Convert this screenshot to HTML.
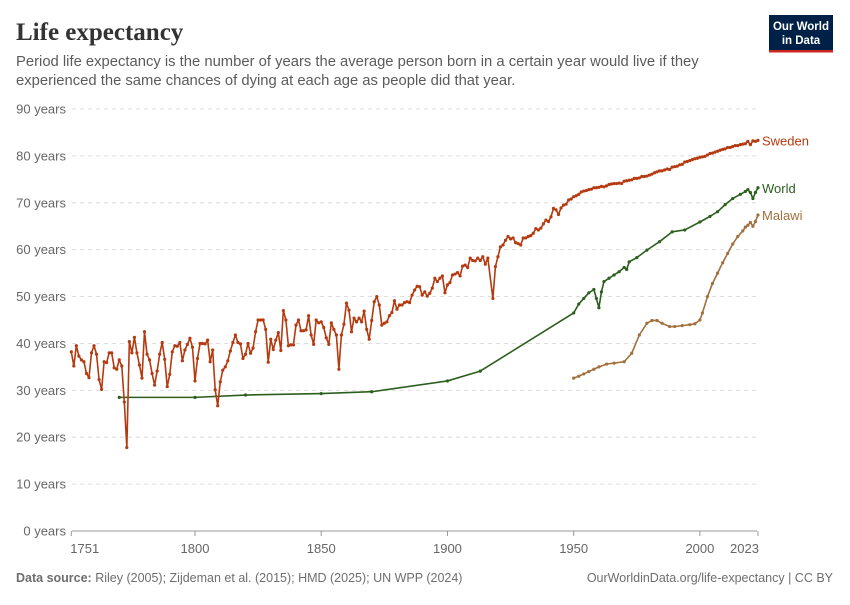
<!DOCTYPE html>
<html><head><meta charset="utf-8"><style>
body{margin:0;background:#fff;width:850px;height:600px;overflow:hidden;font-family:"Liberation Sans",sans-serif}
</style></head><body>
<svg id="chart" width="850" height="600" viewBox="0 0 850 600" xmlns="http://www.w3.org/2000/svg">
<text x="16" y="40" font-family="Liberation Serif, serif" font-size="25" font-weight="bold" fill="#333">Life expectancy</text>
<text font-size="14.8" fill="#5b5b5b"><tspan x="16" y="66">Period life expectancy is the number of years the average person born in a certain year would live if they</tspan><tspan x="16" y="85">experienced the same chances of dying at each age as people did that year.</tspan></text>
<g><rect x="769" y="15" width="64" height="36" fill="#002147"/><rect x="769" y="50" width="64" height="2.5" fill="#ce261e"/>
<text x="801" y="30" font-size="11.5" font-weight="bold" fill="#fff" text-anchor="middle">Our World</text><text x="801" y="44" font-size="11.5" font-weight="bold" fill="#fff" text-anchor="middle">in Data</text></g>
<g id="grid"></g><g id="series"></g>
<text x="16" y="582" font-size="12.5" fill="#6e6e6e"><tspan font-weight="bold">Data source:</tspan> Riley (2005); Zijdeman et al. (2015); HMD (2025); UN WPP (2024)</text>
<text x="833" y="582" font-size="12.5" fill="#6e6e6e" text-anchor="end">OurWorldinData.org/life-expectancy | CC BY</text>
</svg>
<script>
const yTicks=[0,10,20,30,40,50,60,70,80,90];
const xTicks=[1751,1800,1850,1900,1950,2000,2023];
const sweden1751=[38.2,35.2,39.5,37.3,36.5,36.1,33.6,32.7,38.0,39.5,37.7,32.3,30.2,36.1,35.9,38.0,38.0,34.8,34.5,36.5,35.2,27.5,17.8,40.4,38.0,41.3,38.0,35.4,32.6,42.5,37.7,36.5,33.6,31.1,34.1,37.7,40.2,36.6,30.8,33.4,38.2,39.5,39.4,40.2,36.3,38.6,39.8,41.1,39.2,32.0,36.8,40.0,40.0,39.9,40.7,36.1,38.6,30.1,26.7,31.8,34.3,35.0,36.3,38.4,40.2,41.8,40.2,39.9,36.8,37.7,40.0,37.9,39.0,42.5,45.0,45.0,45.0,43.0,
36.0,40.9,38.7,40.7,42.3,38.5,47.0,45.0,39.5,39.7,39.7,43.9,45.0,42.7,42.7,42.9,45.9,41.8,39.8,45.0,44.4,44.6,43.4,41.2,39.8,44.4,43.0,41.8,34.5,41.8,44.1,48.6,47.1,42.5,45.4,44.6,45.4,44.6,46.9,43.0,40.9,44.9,48.9,50.0,48.2,43.9,44.3,44.6,45.9,46.6,49.1,47.3,48.2,48.2,48.7,48.9,48.7,50.3,51.4,52.2,52.1,50.3,51.0,50.1,50.7,51.8,53.9,53.2,53.9,54.4,50.8,52.5,53.0,54.6,54.8,55.1,54.4,56.5,56.7,56.2,58.2,57.7,57.6,58.2,57.7,58.5,56.9,58.2];
const sweden1918=[49.6,56.4,58.5,60.6,61,62,62.8,62.3,62.5,61.5,61.3,61,62.5,62.5,62.8,63,63.5,64.5,64.2,64.6,65.5,66.3,66,67,68.8,68.5,67.5,68.9,69.5,69.7,70.6,70.8,71.3,71.5,71.8,72.3,72.5,72.6,72.8,72.9,73.2,73.2,73.3,73.5,73.4,73.6,73.9,74,74.1,74.1,74.2,74.1,74.6,74.7,74.8,74.9,75.2,75.2,75.3,75.6,75.6,75.7,75.9,76.1,76.4,76.6,76.8,76.8,77,77.2,77.1,77.6,77.7,77.8,78.1,78.2,78.7,78.8,79,79.2,79.4,79.5,79.7,79.8,79.9,80.2,80.5,80.6,80.8,81,81.2,81.4,81.5,81.8,81.8,82,82.2,82.2,82.4,82.5,82.6,83.1,82.4,83.2,83.1,83.3];
const worldYears=[1770,1800,1820,1850,1870,1900,1913,1950,1952,1954,1956,1958,1959,1960,1961,1962,1964,1966,1968,1970,1971,1972,1975,1979,1984,1989,1994,2000,2004,2007,2010,2013,2016,2018,2019,2020,2021,2022,2023];
const worldValues=[28.5,28.5,29,29.3,29.7,32,34.1,46.5,48.4,49.6,50.8,51.5,49.6,47.6,51,53.2,53.9,54.6,55.3,56.2,55.8,57.4,58.3,59.9,61.7,63.8,64.2,65.9,67.1,68.1,69.6,70.9,71.8,72.4,72.8,72.2,70.9,72.2,73.2];
const malawiYears=[1950,1952,1954,1956,1958,1960,1963,1966,1970,1973,1976,1979,1981,1983,1985,1988,1990,1993,1996,1998,2000,2001,2003,2005,2007,2009,2011,2013,2015,2017,2018,2019,2020,2021,2022,2023];
const malawiValues=[32.6,33.0,33.5,34.0,34.5,35.0,35.6,35.8,36.1,37.9,41.8,44.3,44.9,44.9,44.3,43.6,43.6,43.8,44.0,44.2,45.0,46.5,50,52.8,55,57.2,59.2,61.2,62.8,64,64.8,65.2,65.8,65,66,67.4];
const X=y=>71.3+(y-1751)*2.5245, Y=v=>531-v*4.689;
const NS="http://www.w3.org/2000/svg";
function mk(t,a,p){const e=document.createElementNS(NS,t);for(const k in a)e.setAttribute(k,a[k]);p.appendChild(e);return e;}
const grid=document.getElementById('grid'), ser=document.getElementById('series');
yTicks.forEach(v=>{
 if(v>0){const l=mk('line',{x1:72,x2:757,y1:Y(v),y2:Y(v),stroke:'#ddd','stroke-dasharray':'4,4'},grid);
 
 }
 const t=mk('text',{x:66,y:Y(v)+4.5,'text-anchor':'end','font-size':13,fill:'#666'},grid);t.textContent=v+' years';
 
 
});
const ax=mk('line',{x1:72,x2:757,y1:531,y2:531,stroke:'#999'},grid);


xTicks.forEach((yr,i)=>{
 mk('line',{x1:X(yr),x2:X(yr),y1:531,y2:536,stroke:'#999'},grid);
 const anchor=i==0?'start':(i==xTicks.length-1?'end':'middle');
 const xx=i==0?X(yr)-1:(i==xTicks.length-1?X(yr)+1:X(yr));
 const t=mk('text',{x:xx,y:553,'text-anchor':anchor,'font-size':13,fill:'#666'},grid);t.textContent=yr;
 
 
});
function draw(name,years,vals,color,r){
 const g=mk('g',{},ser);
 
 
 mk('polyline',{points:years.map((y,i)=>X(y)+','+Y(vals[i])).join(' '),fill:'none',stroke:color,'stroke-width':1.6,'stroke-linejoin':'round'},g);
 years.forEach((y,i)=>{const c=mk('circle',{cx:X(y),cy:Y(vals[i]),r:r,fill:color},g);
 
 });
}
const sY=[],sV=[];
sweden1751.forEach((v,i)=>{sY.push(1751+i);sV.push(v);});
sweden1918.forEach((v,i)=>{sY.push(1918+i);sV.push(v);});
draw('malawi',malawiYears,malawiValues,'#a2703d',1.6);
draw('world',worldYears,worldValues,'#2c5f1e',1.6);
draw('sweden',sY,sV,'#b53a10',1.6);
[['Sweden',sV[sV.length-1],'#b53a10'],['World',worldValues[worldValues.length-1],'#2c5f1e'],['Malawi',malawiValues[malawiValues.length-1],'#a2703d']].forEach(([n,v,c])=>{
 const t=mk('text',{x:762,y:Y(v)+5,'font-size':13,fill:c},ser);t.textContent=n;
 
 
});
</script>
</body></html>
